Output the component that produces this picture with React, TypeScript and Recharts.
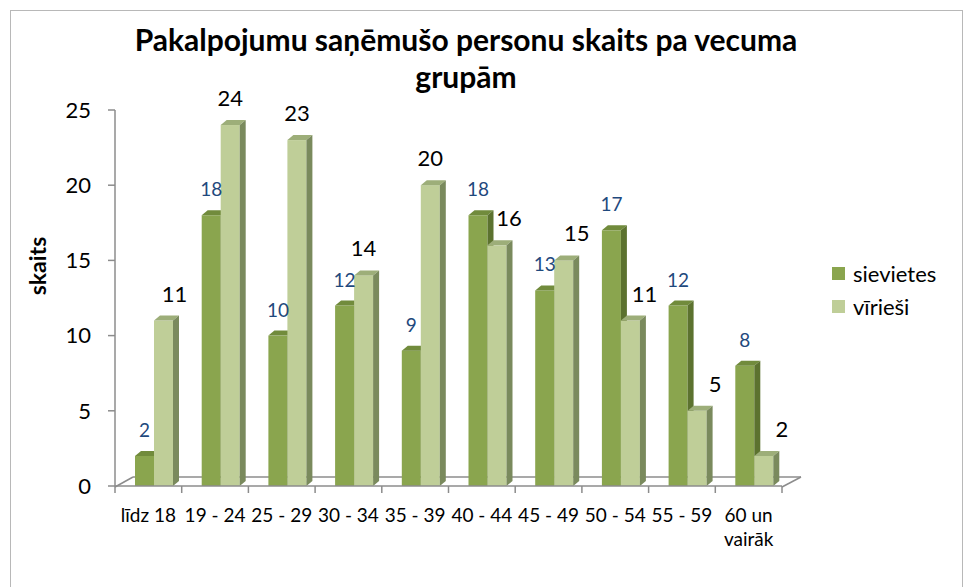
import React from 'react';
import { BarChart, Bar, XAxis, YAxis, LabelList } from 'recharts';

const categories = ['līdz 18', '19 - 24', '25 - 29', '30 - 34', '35 - 39', '40 - 44', '45 - 49', '50 - 54', '55 - 59', '60 un vairāk'];
const sievietes = [2, 18, 10, 12, 9, 18, 13, 17, 12, 8];
const viriesi = [11, 24, 23, 14, 20, 16, 15, 11, 5, 2];
const yTicks = [0, 5, 10, 15, 20, 25];

// sideways nudge of the black labels, as Excel placed them
const maleLabelNudge = [11, 0, 0, 0, 0, 12, 13, 14, 18, 18];

const W = 967;
const H = 587;
const PLOT_LEFT = 115;
const PLOT_RIGHT = 782;
const PLOT_TOP = 110;
const PLOT_BOTTOM = 486;
const SHIFT = 6; // bars sit a bit to the right in the 3D view
const DX = 6;
const DY = 5;
const FONT = 'Lato, "Noto Sans", sans-serif';

const data = categories.map((c, i) => ({ name: c, sievietes: sievietes[i], viriesi: viriesi[i] }));

const colors = {
  sievietes: { front: '#8aa54e', top: '#718b3c', side: '#5c722f' },
  viriesi: { front: '#bfce98', top: '#9dae79', side: '#7a8a5d' },
};

const make3D = (c: { front: string; top: string; side: string }) => (props: any) => {
  const { x, y, width, height } = props;
  if (height == null || height <= 0) return <g />;
  const x0 = x + SHIFT;
  const w = width;
  return (
    <g>
      <rect x={x0} y={y} width={w} height={height} fill={c.front} />
      <polygon points={`${x0},${y} ${x0 + DX},${y - DY} ${x0 + w + DX},${y - DY} ${x0 + w},${y}`} fill={c.top} />
      <polygon points={`${x0 + w},${y} ${x0 + w + DX},${y - DY} ${x0 + w + DX},${y + height - DY} ${x0 + w},${y + height}`} fill={c.side} />
    </g>
  );
};

const femaleLabel = (props: any) => {
  const { x, y, width, value } = props;
  return (
    <text x={x + SHIFT + width / 2} y={y - 19} textAnchor="middle" fontSize={19} fill="#1f497d" fontFamily={FONT}>
      {value}
    </text>
  );
};

const maleLabel = (props: any) => {
  const { x, y, width, value, index } = props;
  return (
    <text x={x + SHIFT + width / 2 + (maleLabelNudge[index] || 0)} y={y - 19} textAnchor="middle" fontSize={22} fill="#000" fontFamily={FONT}>
      {value}
    </text>
  );
};

const CatTick = (props: any) => {
  const { x, payload } = props;
  const v: string = payload.value;
  const lines = v === '60 un vairāk' ? ['60 un', 'vairāk'] : [v];
  return (
    <g>
      {lines.map((l, i) => (
        <text key={i} x={x} y={PLOT_BOTTOM + 36 + i * 24} textAnchor="middle" fontSize={19} fill="#000" fontFamily={FONT}>
          {l}
        </text>
      ))}
    </g>
  );
};

const Floor = () => {
  const step = (PLOT_RIGHT - PLOT_LEFT) / categories.length;
  const back = PLOT_BOTTOM - 9;
  return (
    <svg width={W} height={H} style={{ position: 'absolute', left: 0, top: 0 }}>
      <g stroke="#8c8c8c" strokeWidth={1.5} fill="none">
        <line x1={PLOT_LEFT} y1={PLOT_BOTTOM + 1} x2={PLOT_LEFT + 18} y2={back} />
        <line x1={PLOT_LEFT + 18} y1={back} x2={PLOT_RIGHT + 19} y2={back} />
        <line x1={PLOT_RIGHT} y1={PLOT_BOTTOM + 1} x2={PLOT_RIGHT + 19} y2={back} />
        {categories.concat(['']).map((_, i) => (
          <line key={i} x1={PLOT_LEFT + i * step} y1={PLOT_BOTTOM} x2={PLOT_LEFT + i * step} y2={PLOT_BOTTOM + 7} />
        ))}
      </g>
    </svg>
  );
};

export default function App() {
  return (
    <div style={{ position: 'absolute', left: 0, top: 0, width: W, height: H, overflow: 'hidden', background: '#fff', fontFamily: FONT }}>
      <div style={{ position: 'absolute', left: 10, top: 10, width: 951, height: 620, border: '1px solid #b8b8b8' }} />
      <Floor />
      <div style={{ position: 'absolute', left: 0, top: 0 }}>
        <BarChart width={W} height={H} data={data} margin={{ top: PLOT_TOP, right: W - PLOT_RIGHT, bottom: 0, left: 0 }} barGap={0}>
          <XAxis
            dataKey="name"
            height={H - PLOT_BOTTOM}
            interval={0}
            tickLine={false}
            axisLine={{ stroke: '#8c8c8c', strokeWidth: 1.5 }}
            tick={<CatTick />}
          />
          <YAxis
            width={PLOT_LEFT}
            domain={[0, 25]}
            ticks={yTicks}
            interval={0}
            tickSize={7}
            tickMargin={17}
            axisLine={{ stroke: '#8c8c8c', strokeWidth: 1.5 }}
            tickLine={{ stroke: '#8c8c8c', strokeWidth: 1.5 }}
            tick={{ fontSize: 22, fill: '#000', fontFamily: FONT }}
          />
          <Bar dataKey="sievietes" barSize={19} fill={colors.sievietes.front} shape={make3D(colors.sievietes)} isAnimationActive={false}>
            <LabelList dataKey="sievietes" content={femaleLabel} />
          </Bar>
          <Bar dataKey="viriesi" barSize={19} fill={colors.viriesi.front} shape={make3D(colors.viriesi)} isAnimationActive={false}>
            <LabelList dataKey="viriesi" content={maleLabel} />
          </Bar>
        </BarChart>
      </div>
      <div style={{ position: 'absolute', left: 0, top: 21, width: 932, textAlign: 'center', fontSize: 30, fontWeight: 700, lineHeight: '37px', color: '#000' }}>
        Pakalpojumu saņēmušo personu skaits pa vecuma
        <br />
        grupām
      </div>
      <div style={{ position: 'absolute', left: 37, top: 266, transform: 'translate(-50%, -50%) rotate(-90deg)', fontSize: 23, fontWeight: 700, whiteSpace: 'nowrap' }}>
        skaits
      </div>
      {[
        { label: 'sievietes', color: colors.sievietes.front, top: 273 },
        { label: 'vīrieši', color: colors.viriesi.front, top: 306 },
      ].map((l) => (
        <div key={l.label} style={{ position: 'absolute', left: 832, top: l.top - 15, height: 30, display: 'flex', alignItems: 'center' }}>
          <span style={{ width: 13, height: 13, background: l.color, display: 'inline-block', marginRight: 8 }} />
          <span style={{ fontSize: 22, color: '#000' }}>{l.label}</span>
        </div>
      ))}
    </div>
  );
}
